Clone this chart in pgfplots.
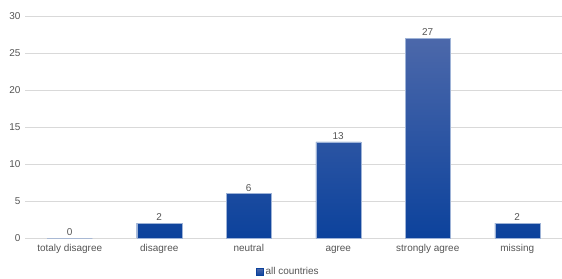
\documentclass[border=0pt]{standalone}
\usepackage{pgfplots}
\pgfplotsset{compat=1.18}
\usepackage{fontspec}
\setmainfont{Liberation Sans}
\definecolor{txt}{RGB}{85,85,85}
\definecolor{gridc}{RGB}{217,217,217}
\definecolor{bartop}{RGB}{76,104,170}
\definecolor{barbot}{RGB}{12,66,156}
\begin{document}
\begin{tikzpicture}
\begin{axis}[
  at={(0,0)}, anchor=south west,
  scale only axis,
  width=537bp, height=222bp,
  xmin=-0.5, xmax=5.5, ymin=0, ymax=30,
  ytick={0,5,...,30},
  xtick={0,...,5},
  xticklabels={totaly disagree,disagree,neutral,agree,strongly agree,missing},
  axis line style={draw=none},
  major tick length=0pt,
  ymajorgrids, grid style={gridc, line width=0.6pt},
  tick label style={font=\fontsize{10}{12}\selectfont, text=txt},
  yticklabel style={xshift=-1bp},
  xticklabel style={anchor=base, yshift=-13bp},
  /pgf/number format/assume math mode=true,
  ybar, bar width=45bp,
  nodes near coords,
  nodes near coords style={font=\fontsize{10}{12}\selectfont, text=txt, yshift=-1bp},
  legend style={at={(0.5,0)}, anchor=center, xshift=-5bp, yshift=-34bp, draw=none, fill=none,
    font=\fontsize{10}{12}\selectfont, text=txt, inner sep=0pt},
  legend image code/.code={\fill[barbot] (0bp,-3.5bp) rectangle (7bp,3.5bp);},
  legend cell align=left,
  clip=false,
]
\addplot[draw=barbot!40, line width=0.3pt, top color=bartop, bottom color=barbot] coordinates {(0,0) (1,2) (2,6) (3,13) (4,27) (5,2)};
\addlegendentry{all countries}
\end{axis}
\pgfresetboundingbox
\useasboundingbox (-25bp,-41bp) rectangle (537bp,238bp);
\end{tikzpicture}
\end{document}
